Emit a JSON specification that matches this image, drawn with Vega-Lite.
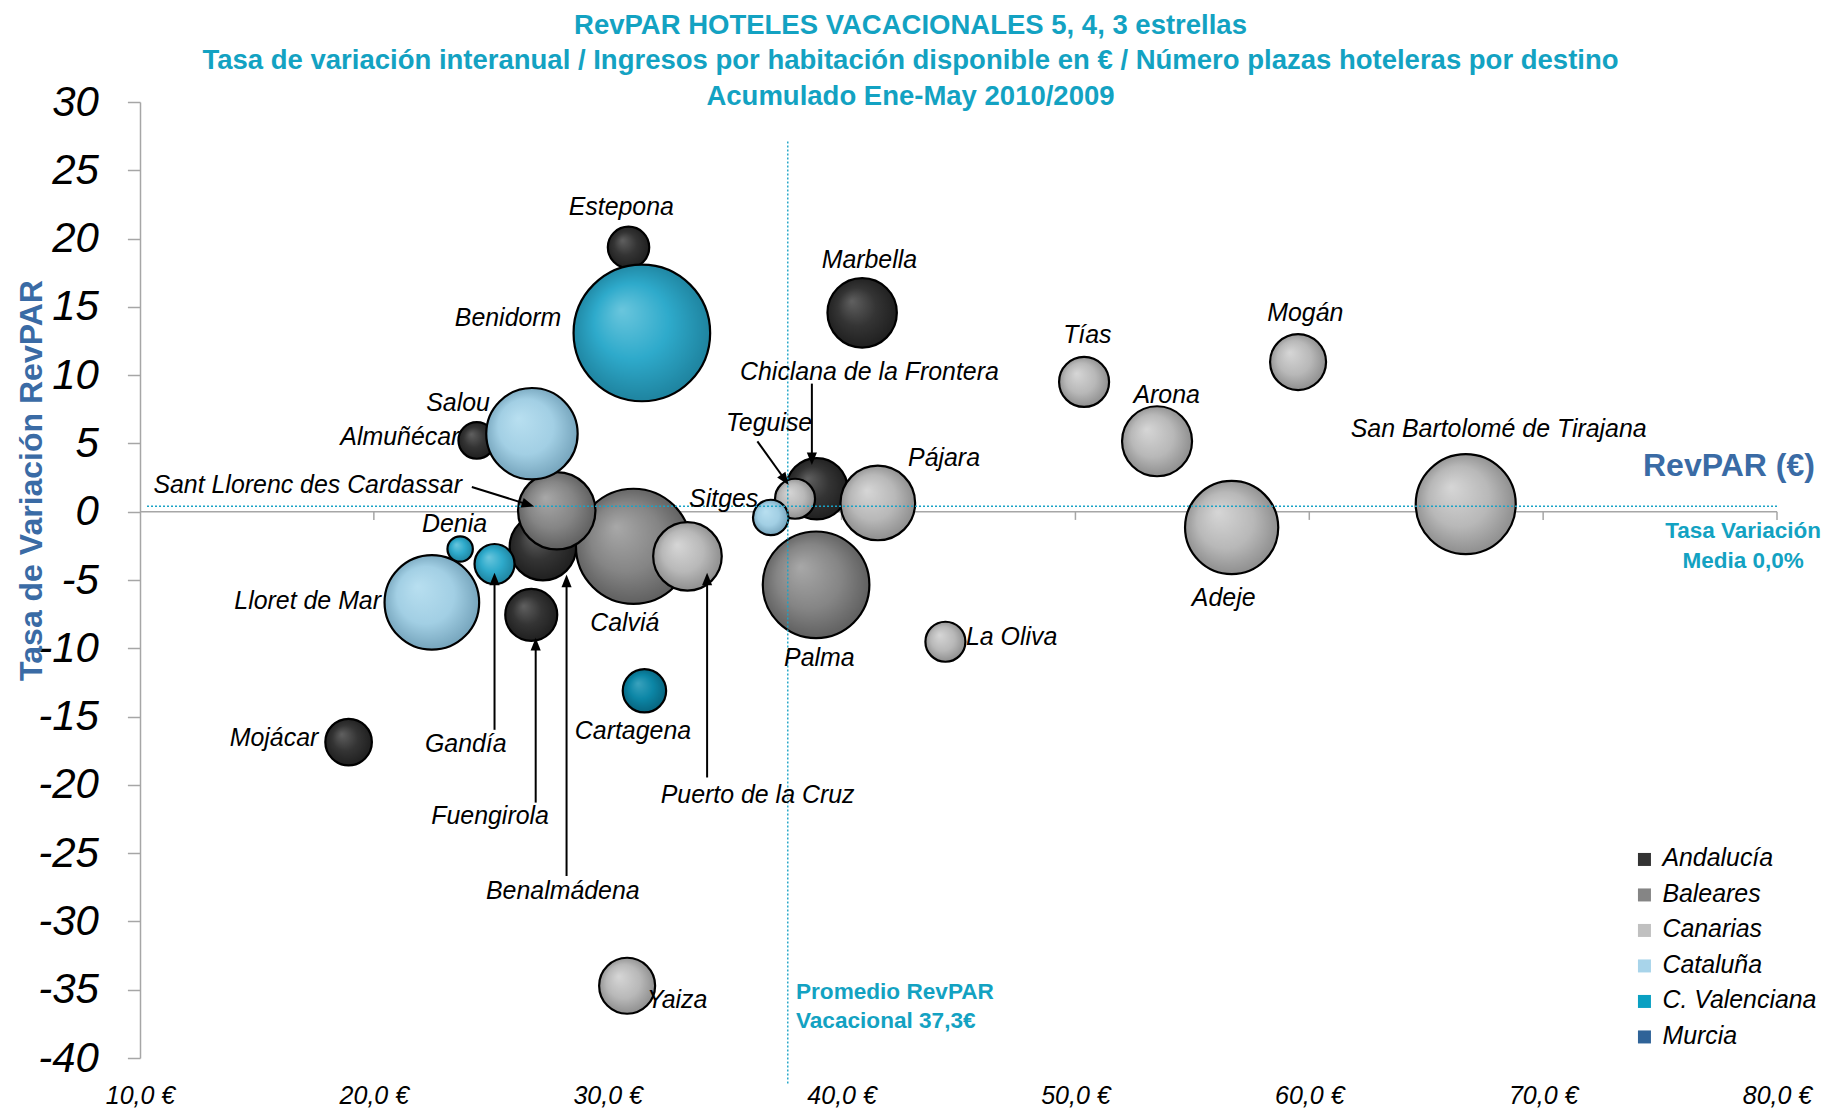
{
  "$schema": "https://vega.github.io/schema/vega-lite/v6.json",
  "width": 1637,
  "height": 956,
  "autosize": {"type": "none"},
  "padding": {"left": 140, "top": 102, "right": 50, "bottom": 53},
  "background": "white",
  "title": {
    "text": ["RevPAR HOTELES VACACIONALES 5, 4, 3 estrellas", "Tasa de variación interanual / Ingresos por habitación disponible en € / Número plazas hoteleras por destino", "Acumulado Ene-May 2010/2009"],
    "font": "Liberation Sans",
    "fontSize": 27.5,
    "fontWeight": "bold",
    "color": "#13a2c2",
    "lineHeight": 35.5,
    "anchor": "middle",
    "frame": "group",
    "dx": -48,
    "offset": -29
  },
  "datasets": {
    "bubbles": [
      {"name": "Estepona", "region": "Andalucía", "x": 30.89, "y": 19.36, "plazas": 3430},
      {"name": "Marbella", "region": "Andalucía", "x": 40.88, "y": 14.56, "plazas": 9630},
      {"name": "Chiclana de la Frontera", "region": "Andalucía", "x": 38.94, "y": 1.68, "plazas": 7540},
      {"name": "Almuñécar", "region": "Andalucía", "x": 24.4, "y": 5.22, "plazas": 2680},
      {"name": "Benalmádena", "region": "Andalucía", "x": 27.23, "y": -2.59, "plazas": 8870},
      {"name": "Fuengirola", "region": "Andalucía", "x": 26.73, "y": -7.55, "plazas": 5410},
      {"name": "Mojácar", "region": "Andalucía", "x": 18.92, "y": -16.87, "plazas": 4340},
      {"name": "Calviá", "region": "Baleares", "x": 31.1, "y": -2.53, "plazas": 26450},
      {"name": "Sant Llorenc des Cardassar", "region": "Baleares", "x": 27.82, "y": 0.07, "plazas": 11980},
      {"name": "Palma", "region": "Baleares", "x": 38.91, "y": -5.35, "plazas": 22730},
      {"name": "Tías", "region": "Canarias", "x": 50.37, "y": 9.5, "plazas": 5000},
      {"name": "Mogán", "region": "Canarias", "x": 59.52, "y": 10.96, "plazas": 6270},
      {"name": "Arona", "region": "Canarias", "x": 53.49, "y": 5.16, "plazas": 9800},
      {"name": "San Bartolomé de Tirajana", "region": "Canarias", "x": 66.69, "y": 0.56, "plazas": 20000},
      {"name": "Adeje", "region": "Canarias", "x": 56.68, "y": -1.16, "plazas": 17370},
      {"name": "Pájara", "region": "Canarias", "x": 41.55, "y": 0.64, "plazas": 11130},
      {"name": "Teguise", "region": "Canarias", "x": 38.01, "y": 0.95, "plazas": 3200},
      {"name": "La Oliva", "region": "Canarias", "x": 44.44, "y": -9.52, "plazas": 3200},
      {"name": "Puerto de la Cruz", "region": "Canarias", "x": 33.41, "y": -3.27, "plazas": 9410},
      {"name": "Yaiza", "region": "Canarias", "x": 30.83, "y": -34.71, "plazas": 6270},
      {"name": "Salou", "region": "Cataluña", "x": 26.76, "y": 5.71, "plazas": 16710},
      {"name": "Sitges", "region": "Cataluña", "x": 36.97, "y": -0.42, "plazas": 2510},
      {"name": "Lloret de Mar", "region": "Cataluña", "x": 22.48, "y": -6.64, "plazas": 17900},
      {"name": "Benidorm", "region": "C. Valenciana", "x": 31.46, "y": 13.09, "plazas": 37320},
      {"name": "Denia", "region": "C. Valenciana", "x": 23.69, "y": -2.73, "plazas": 1290},
      {"name": "Gandía", "region": "C. Valenciana", "x": 25.16, "y": -3.83, "plazas": 3200},
      {"name": "Cartagena", "region": "Murcia", "x": 31.57, "y": -13.11, "plazas": 3770}
    ],
    "labels": [
      {"name": "Estepona", "x": 30.58, "y": 22.23},
      {"name": "Benidorm", "x": 25.74, "y": 14.12},
      {"name": "Marbella", "x": 41.19, "y": 18.39},
      {"name": "Tías", "x": 50.51, "y": 12.84},
      {"name": "Mogán", "x": 59.83, "y": 14.46},
      {"name": "Arona", "x": 53.9, "y": 8.49},
      {"name": "San Bartolomé de Tirajana", "x": 68.1, "y": 6.01},
      {"name": "Chiclana de la Frontera", "x": 41.19, "y": 10.19},
      {"name": "Teguise", "x": 36.9, "y": 6.44},
      {"name": "Pájara", "x": 44.38, "y": 3.88},
      {"name": "Sitges", "x": 34.96, "y": 0.89},
      {"name": "Sant Llorenc des Cardassar", "x": 17.17, "y": 1.91},
      {"name": "Salou", "x": 23.6, "y": 7.89},
      {"name": "Almuñécar", "x": 21.11, "y": 5.41},
      {"name": "Denia", "x": 23.45, "y": -0.99},
      {"name": "Lloret de Mar", "x": 17.17, "y": -6.62},
      {"name": "Calviá", "x": 30.73, "y": -8.24},
      {"name": "Palma", "x": 39.05, "y": -10.81},
      {"name": "La Oliva", "x": 47.27, "y": -9.27},
      {"name": "Adeje", "x": 56.34, "y": -6.37},
      {"name": "Cartagena", "x": 31.08, "y": -16.1},
      {"name": "Mojácar", "x": 15.73, "y": -16.61},
      {"name": "Gandía", "x": 23.93, "y": -17.07},
      {"name": "Fuengirola", "x": 24.97, "y": -22.32},
      {"name": "Benalmádena", "x": 28.08, "y": -27.82},
      {"name": "Puerto de la Cruz", "x": 36.41, "y": -20.79},
      {"name": "Yaiza", "x": 32.97, "y": -35.82}
    ],
    "arrows": [
      {"name": "Gandía", "x": 25.16, "y": -15.97, "x2": 25.16, "y2": -4.93},
      {"name": "Fuengirola", "x": 26.92, "y": -21.3, "x2": 26.92, "y2": -9.69},
      {"name": "Benalmádena", "x": 28.24, "y": -26.67, "x2": 28.24, "y2": -5.06},
      {"name": "Puerto de la Cruz", "x": 34.25, "y": -19.46, "x2": 34.25, "y2": -4.93},
      {"name": "Chiclana de la Frontera", "x": 38.73, "y": 9.38, "x2": 38.73, "y2": 3.88},
      {"name": "Teguise", "x": 36.4, "y": 5.15, "x2": 37.58, "y2": 2.34},
      {"name": "Sant Llorenc des Cardassar", "x": 24.19, "y": 1.81, "x2": 26.6, "y2": 0.52}
    ],
    "axisline": [{"x": 10, "x2": 80, "y": 0}],
    "axisticks": [
      {"x": 20, "y": 0, "y2": -0.6},
      {"x": 30, "y": 0, "y2": -0.6},
      {"x": 40, "y": 0, "y2": -0.6},
      {"x": 50, "y": 0, "y2": -0.6},
      {"x": 60, "y": 0, "y2": -0.6},
      {"x": 70, "y": 0, "y2": -0.6},
      {"x": 80, "y": 0, "y2": -0.6}
    ],
    "hmean": [{"x": 10.3, "x2": 80, "y": 0.4}],
    "vmean": [{"x": 37.7, "y": 27.1, "y2": -41.9}]
  },
  "encoding": {
    "x": {
      "field": "x",
      "type": "quantitative",
      "scale": {"domain": [10, 80], "nice": false, "zero": false},
      "axis": {
        "title": null,
        "values": [10, 20, 30, 40, 50, 60, 70, 80],
        "labelExpr": "replace(format(datum.value, '.1f'), '.', ',') + ' €'",
        "domain": false,
        "ticks": false,
        "tickSize": 0,
        "grid": false,
        "labelFont": "Liberation Sans",
        "labelFontStyle": "italic",
        "labelFontSize": 25,
        "labelColor": "#000000",
        "labelPadding": 25,
        "labelFlush": false,
        "labelOverlap": false
      }
    },
    "y": {
      "field": "y",
      "type": "quantitative",
      "scale": {"domain": [-40, 30], "nice": false, "zero": false},
      "axis": {
        "title": "Tasa de Variación RevPAR",
        "titleFont": "Liberation Sans",
        "titleFontSize": 32,
        "titleFontWeight": "bold",
        "titleColor": "#3a6ba5",
        "titleAngle": -90,
        "titleAlign": "center",
        "titleBaseline": "alphabetic",
        "titleX": -99,
        "titleY": 378,
        "values": [-40, -35, -30, -25, -20, -15, -10, -5, 0, 5, 10, 15, 20, 25, 30],
        "labelExpr": "'' + datum.value",
        "grid": false,
        "domainColor": "#a6a6a6",
        "domainWidth": 1.5,
        "tickColor": "#a6a6a6",
        "tickWidth": 1.5,
        "tickSize": 12.6,
        "labelFont": "Liberation Sans",
        "labelFontStyle": "italic",
        "labelFontSize": 42,
        "labelColor": "#000000",
        "labelPadding": 29,
        "labelFlush": false,
        "labelOverlap": false
      }
    }
  },
  "layer": [
    {
      "data": {"name": "axisline"},
      "mark": {"type": "rule", "color": "#a6a6a6", "strokeWidth": 1.5},
      "encoding": {"x2": {"field": "x2"}}
    },
    {
      "data": {"name": "axisticks"},
      "mark": {"type": "rule", "color": "#a6a6a6", "strokeWidth": 1.5},
      "encoding": {"y2": {"field": "y2"}}
    },
    {
      "data": {"name": "bubbles"},
      "transform": [{"filter": "datum.region === 'Andalucía'"}],
      "mark": {"type": "circle", "opacity": 1, "stroke": "#000000", "strokeWidth": 2.2,
        "fill": {"gradient": "radial", "x1": 0.35, "y1": 0.33, "r1": 0, "x2": 0.5, "y2": 0.5, "r2": 0.55,
          "stops": [{"offset": 0, "color": "#606060"}, {"offset": 0.5, "color": "#343434"}, {"offset": 1, "color": "#1c1c1c"}]}},
      "encoding": {"size": {"field": "plazas", "type": "quantitative", "scale": {"domain": [0, 40000], "range": [0, 20000]}, "legend": null}}
    },
    {
      "data": {"name": "bubbles"},
      "transform": [{"filter": "datum.region === 'Baleares'"}],
      "mark": {"type": "circle", "opacity": 1, "stroke": "#000000", "strokeWidth": 2.2,
        "fill": {"gradient": "radial", "x1": 0.35, "y1": 0.33, "r1": 0, "x2": 0.5, "y2": 0.5, "r2": 0.55,
          "stops": [{"offset": 0, "color": "#a8a8a8"}, {"offset": 0.55, "color": "#858585"}, {"offset": 1, "color": "#595959"}]}},
      "encoding": {"size": {"field": "plazas", "type": "quantitative", "scale": {"domain": [0, 40000], "range": [0, 20000]}, "legend": null}}
    },
    {
      "data": {"name": "bubbles"},
      "transform": [{"filter": "datum.region === 'Canarias'"}],
      "mark": {"type": "circle", "opacity": 1, "stroke": "#000000", "strokeWidth": 2.2,
        "fill": {"gradient": "radial", "x1": 0.35, "y1": 0.33, "r1": 0, "x2": 0.5, "y2": 0.5, "r2": 0.55,
          "stops": [{"offset": 0, "color": "#d6d6d6"}, {"offset": 0.55, "color": "#b8b8b8"}, {"offset": 1, "color": "#878787"}]}},
      "encoding": {"size": {"field": "plazas", "type": "quantitative", "scale": {"domain": [0, 40000], "range": [0, 20000]}, "legend": null}}
    },
    {
      "data": {"name": "bubbles"},
      "transform": [{"filter": "datum.region === 'Cataluña'"}],
      "mark": {"type": "circle", "opacity": 1, "stroke": "#000000", "strokeWidth": 2.2,
        "fill": {"gradient": "radial", "x1": 0.35, "y1": 0.33, "r1": 0, "x2": 0.5, "y2": 0.5, "r2": 0.55,
          "stops": [{"offset": 0, "color": "#b8dff0"}, {"offset": 0.55, "color": "#a2cfe4"}, {"offset": 1, "color": "#6e9db5"}]}},
      "encoding": {"size": {"field": "plazas", "type": "quantitative", "scale": {"domain": [0, 40000], "range": [0, 20000]}, "legend": null}}
    },
    {
      "data": {"name": "bubbles"},
      "transform": [{"filter": "datum.region === 'C. Valenciana'"}],
      "mark": {"type": "circle", "opacity": 1, "stroke": "#000000", "strokeWidth": 2.2,
        "fill": {"gradient": "radial", "x1": 0.35, "y1": 0.33, "r1": 0, "x2": 0.5, "y2": 0.5, "r2": 0.55,
          "stops": [{"offset": 0, "color": "#6ac6dd"}, {"offset": 0.5, "color": "#2eaacb"}, {"offset": 1, "color": "#1c7d98"}]}},
      "encoding": {"size": {"field": "plazas", "type": "quantitative", "scale": {"domain": [0, 40000], "range": [0, 20000]}, "legend": null}}
    },
    {
      "data": {"name": "bubbles"},
      "transform": [{"filter": "datum.region === 'Murcia'"}],
      "mark": {"type": "circle", "opacity": 1, "stroke": "#000000", "strokeWidth": 2.2,
        "fill": {"gradient": "radial", "x1": 0.35, "y1": 0.33, "r1": 0, "x2": 0.5, "y2": 0.5, "r2": 0.55,
          "stops": [{"offset": 0, "color": "#3aa2bd"}, {"offset": 0.5, "color": "#0c86a6"}, {"offset": 1, "color": "#075f78"}]}},
      "encoding": {"size": {"field": "plazas", "type": "quantitative", "scale": {"domain": [0, 40000], "range": [0, 20000]}, "legend": null}}
    },
    {
      "data": {"name": "bubbles"},
      "mark": {"type": "square", "opacity": 0, "size": 10},
      "encoding": {
        "color": {
          "field": "region",
          "type": "nominal",
          "scale": {
            "domain": ["Andalucía", "Baleares", "Canarias", "Cataluña", "C. Valenciana", "Murcia"],
            "range": ["#333333", "#858585", "#c0c0c0", "#a8d4ea", "#0aa0c2", "#2f6398"]
          },
          "legend": {
            "title": null,
            "orient": "none",
            "legendX": 1492,
            "legendY": 745,
            "padding": 0,
            "symbolType": "square",
            "symbolSize": 169,
            "symbolOpacity": 1,
            "symbolStrokeWidth": 0,
            "labelFont": "Liberation Sans",
            "labelFontStyle": "italic",
            "labelFontSize": 24.9,
            "labelColor": "#000000",
            "labelOffset": 5.5,
            "rowPadding": 9.5,
            "labelLimit": 300
          }
        }
      }
    },
    {
      "data": {"name": "hmean"},
      "mark": {"type": "rule", "color": "#1aa3c6", "strokeWidth": 1.4, "strokeDash": [2, 2]},
      "encoding": {"x2": {"field": "x2"}}
    },
    {
      "data": {"name": "vmean"},
      "mark": {"type": "rule", "color": "#1aa3c6", "strokeWidth": 1.4, "strokeDash": [2, 2]},
      "encoding": {"y2": {"field": "y2"}}
    },
    {
      "data": {"name": "arrows"},
      "mark": {"type": "rule", "color": "#000000", "strokeWidth": 2},
      "encoding": {"x2": {"field": "x2"}, "y2": {"field": "y2"}}
    },
    {
      "data": {"name": "arrows"},
      "transform": [{"filter": "indexof(['Gandía','Fuengirola','Benalmádena','Puerto de la Cruz'], datum.name) >= 0"}],
      "mark": {"type": "point", "shape": "M0,-1L-0.8,1L0.8,1Z", "filled": true, "opacity": 1, "color": "#000000", "size": 160, "angle": 0},
      "encoding": {"x": {"field": "x2", "type": "quantitative"}, "y": {"field": "y2", "type": "quantitative"}}
    },
    {
      "data": {"name": "arrows"},
      "transform": [{"filter": "datum.name === 'Chiclana de la Frontera'"}],
      "mark": {"type": "point", "shape": "M0,-1L-0.8,1L0.8,1Z", "filled": true, "opacity": 1, "color": "#000000", "size": 160, "angle": 180},
      "encoding": {"x": {"field": "x2", "type": "quantitative"}, "y": {"field": "y2", "type": "quantitative"}}
    },
    {
      "data": {"name": "arrows"},
      "transform": [{"filter": "datum.name === 'Teguise'"}],
      "mark": {"type": "point", "shape": "M0,-1L-0.8,1L0.8,1Z", "filled": true, "opacity": 1, "color": "#000000", "size": 160, "angle": 144.4},
      "encoding": {"x": {"field": "x2", "type": "quantitative"}, "y": {"field": "y2", "type": "quantitative"}}
    },
    {
      "data": {"name": "arrows"},
      "transform": [{"filter": "datum.name === 'Sant Llorenc des Cardassar'"}],
      "mark": {"type": "point", "shape": "M0,-1L-0.8,1L0.8,1Z", "filled": true, "opacity": 1, "color": "#000000", "size": 160, "angle": 107.3},
      "encoding": {"x": {"field": "x2", "type": "quantitative"}, "y": {"field": "y2", "type": "quantitative"}}
    },
    {
      "data": {"name": "labels"},
      "mark": {"type": "text", "font": "Liberation Sans", "fontStyle": "italic", "fontSize": 24.9, "color": "#000000", "align": "center", "baseline": "middle"},
      "encoding": {"text": {"field": "name", "type": "nominal"}}
    },
    {
      "data": {"values": [{"label": "RevPAR (€)", "x": 81.62, "y": 3.37}]},
      "mark": {"type": "text", "font": "Liberation Sans", "fontWeight": "bold", "fontSize": 32, "color": "#3a6ba5", "align": "right", "baseline": "middle"},
      "encoding": {"text": {"field": "label", "type": "nominal"}}
    },
    {
      "data": {"values": [{"label": "Tasa Variación\nMedia  0,0%", "x": 78.55, "y": -1.39}]},
      "mark": {"type": "text", "font": "Liberation Sans", "fontWeight": "bold", "fontSize": 22.5, "color": "#13a2c2", "align": "center", "baseline": "middle", "lineBreak": "\n", "lineHeight": 30},
      "encoding": {"text": {"field": "label", "type": "nominal"}}
    },
    {
      "data": {"values": [{"label": "Promedio RevPAR\nVacacional 37,3€", "x": 38.05, "y": -35.14}]},
      "mark": {"type": "text", "font": "Liberation Sans", "fontWeight": "bold", "fontSize": 22.6, "color": "#13a2c2", "align": "left", "baseline": "middle", "lineBreak": "\n", "lineHeight": 29},
      "encoding": {"text": {"field": "label", "type": "nominal"}}
    }
  ],
  "config": {
    "view": {"stroke": null},
    "font": "Liberation Sans"
  }
}
